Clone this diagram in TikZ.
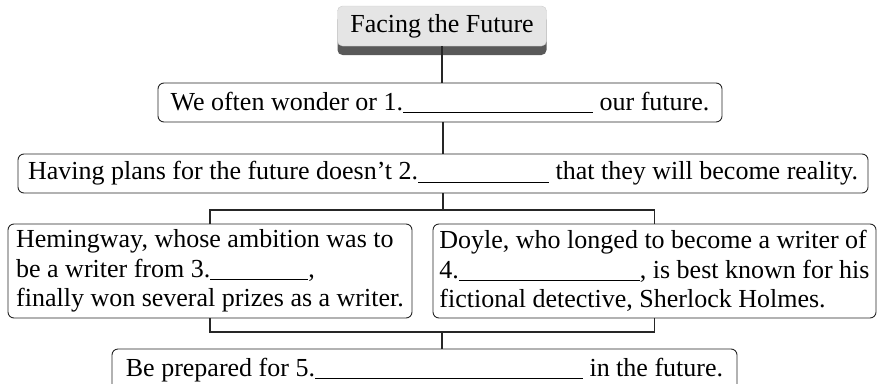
\documentclass[tikz,border=0pt]{standalone}
\usepackage{fontspec}
\setmainfont{Liberation Serif}
\usetikzlibrary{shadows}

\newcommand{\answerline}[1]{\rule[-3pt]{#1}{1.3pt}}

\begin{document}
\begin{tikzpicture}[x=1pt, y=-1pt,
  every node/.style={font=\fontsize{26}{29.5}\selectfont, inner sep=0pt},
  textbox/.style={draw=black!85, line width=0.9pt, rounded corners=6pt, minimum height=39pt},
  titlebox/.style={fill=gray!20, draw=gray!40, rounded corners=5pt,
    minimum width=209pt, minimum height=40pt,
    drop shadow={shadow xshift=0pt, shadow yshift=-9pt, fill=black!65, opacity=1}},
  link/.style={line width=1.5pt, black!85}]
  \clip (0,0) rectangle (877,383);
  % title
  \node[titlebox] (title) at (442,26) {Facing the Future};
  % one box per summary sentence
  \node[textbox, minimum width=564pt] (sum1) at (440,102.5)
    {We often wonder or 1.\answerline{190pt} our future.};
  \node[textbox, minimum width=850pt] (sum2) at (443,173.5)
    {Having plans for the future doesn’t 2.\answerline{131pt} that they will become reality.};
  \node[textbox, minimum width=404pt, minimum height=94pt, align=left] (hem) at (210,271)
    {Hemingway, whose ambition was to\\
     be a writer from 3.\answerline{98pt},\\
     finally won several prizes as a writer.};
  \node[textbox, minimum width=443pt, minimum height=94pt, align=left] (doyle) at (654.5,271)
    {Doyle, who longed to become a writer of\\
     4.\answerline{181pt}, is best known for his\\
     fictional detective, Sherlock Holmes.};
  \node[textbox, minimum width=625pt, minimum height=42pt] (sum5) at (424.5,370)
    {Be prepared for 5.\answerline{268pt} in the future.};
  % connectors
  \coordinate (split) at (443,210);
  \coordinate (join) at (442,332);
  \draw[link] (title.south) -- (title.south |- sum1.north);
  \draw[link] (sum1.south -| split) -- (sum2.north -| split);
  \draw[link] (sum2.south -| split) -- (split);
  \draw[link, line width=1.2pt] (hem.north) |- (split) -| (doyle.north);
  \draw[link, line width=1.2pt] (hem.south) |- (join) -| (doyle.south);
  \draw[link] (join) -- (join |- sum5.north);
\end{tikzpicture}
\end{document}
